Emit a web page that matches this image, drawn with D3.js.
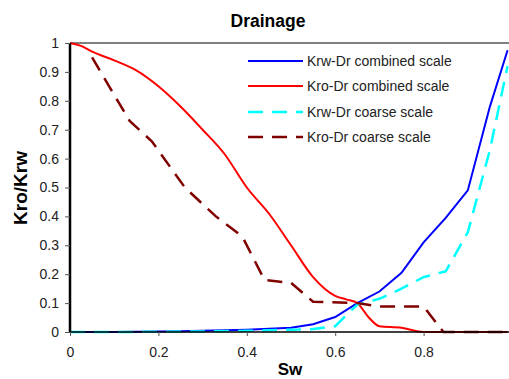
<!DOCTYPE html>
<html>
<head>
<meta charset="utf-8">
<script src="https://cdn.jsdelivr.net/npm/d3@7"></script>
<style>
  body { margin: 0; background: #fff; }
  svg { display: block; font-family: "Liberation Sans", Arial, sans-serif; }
</style>
</head>
<body>
<div id="chart"></div>
<script>
// Sw values and relative permeabilities
const krwCombinedSw = [0, 0.05, 0.1, 0.15, 0.2, 0.25, 0.3, 0.35, 0.4, 0.45, 0.5, 0.55, 0.6, 0.65, 0.7, 0.75, 0.8, 0.85, 0.9, 0.95, 0.99];
const krwCombined = [0, 0, 0, 0.001, 0.002, 0.003, 0.004, 0.006, 0.008, 0.011, 0.015, 0.027, 0.052, 0.1, 0.14, 0.205, 0.31, 0.395, 0.49, 0.78, 0.975];

const kroCombinedSw = [0, 0.025, 0.05, 0.1, 0.15, 0.2, 0.25, 0.3, 0.35, 0.4, 0.45, 0.5, 0.55, 0.6, 0.625, 0.65, 0.675, 0.7, 0.75, 0.8, 0.99];
const kroCombined = [1, 0.99, 0.97, 0.94, 0.905, 0.85, 0.78, 0.70, 0.615, 0.50, 0.41, 0.30, 0.19, 0.125, 0.113, 0.1, 0.052, 0.02, 0.015, 0, 0];

const krwCoarseSw = [0, 0.1, 0.2, 0.3, 0.4, 0.5, 0.55, 0.6, 0.65, 0.7, 0.75, 0.8, 0.85, 0.9, 0.95, 0.99];
const krwCoarse = [0, 0, 0.001, 0.002, 0.004, 0.008, 0.01, 0.02, 0.095, 0.115, 0.15, 0.19, 0.21, 0.345, 0.63, 0.92];

const kroCoarseSw = [0.05, 0.135, 0.185, 0.26, 0.33, 0.39, 0.44, 0.5, 0.55, 0.65, 0.7, 0.8, 0.845, 0.99];
const kroCoarse = [0.95, 0.73, 0.66, 0.5, 0.4, 0.33, 0.18, 0.17, 0.105, 0.1, 0.088, 0.088, 0, 0];

const seriesNames = [`Krw-Dr combined scale`, `Kro-Dr combined scale`, `Krw-Dr coarse scale`, `Kro-Dr coarse scale`];
const xTicks = [0, 0.2, 0.4, 0.6, 0.8];
const yTicks = [0, 0.1, 0.2, 0.3, 0.4, 0.5, 0.6, 0.7, 0.8, 0.9, 1];

const width = 509;
const height = 379;
const margin = {top: 43, right: -3, bottom: 47, left: 70};

const series = [
  {name: seriesNames[0], sw: krwCombinedSw, k: krwCombined, color: `#0000ff`, dash: null, w: 2},
  {name: seriesNames[1], sw: kroCombinedSw, k: kroCombined, color: `#ff0000`, dash: null, w: 2},
  {name: seriesNames[2], sw: krwCoarseSw, k: krwCoarse, color: `#00ffff`, dash: `15,9`, w: 2.5},
  {name: seriesNames[3], sw: kroCoarseSw, k: kroCoarse, color: `#800000`, dash: `15,9`, w: 2.5},
];

const svg = d3.select(`#chart`).append(`svg`)
  .attr(`width`, width)
  .attr(`height`, height);

const x = d3.scaleLinear()
  .domain([0, 1])
  .range([margin.left, width - margin.right]);

const y = d3.scaleLinear()
  .domain([0, 1])
  .range([height - margin.bottom, margin.top]);

// top border of the plot area
svg.append(`line`)
  .attr(`x1`, x(0)).attr(`x2`, width)
  .attr(`y1`, y(1)).attr(`y2`, y(1))
  .attr(`stroke`, `#000`)
  .attr(`stroke-width`, 1);

const line = d3.line()
  .curve(d3.curveMonotoneX)
  .x(d => x(d[0]))
  .y(d => y(d[1]));

const straight = d3.line()
  .x(d => x(d[0]))
  .y(d => y(d[1]));

svg.append(`g`)
  .selectAll(`path`)
  .data(series)
  .enter().append(`path`)
    .attr(`d`, (s, i) => (i === 1 ? line : straight)(s.sw.map((v, j) => [v, s.k[j]])))
    .attr(`fill`, `none`)
    .attr(`stroke`, s => s.color)
    .attr(`stroke-width`, s => s.w)
    .attr(`stroke-dasharray`, s => s.dash);

// axes
const yAxis = svg.append(`g`)
  .attr(`transform`, `translate(${x(0)},0)`)
  .call(d3.axisLeft(y).tickValues(yTicks).tickSize(5).tickPadding(6).tickFormat(d3.format(`~g`)));

const xAxis = svg.append(`g`)
  .attr(`transform`, `translate(0,${y(0)})`)
  .call(d3.axisBottom(x).tickValues(xTicks).tickSize(4).tickPadding(11).tickFormat(d3.format(`~g`)));

[yAxis, xAxis].forEach(a => {
  a.selectAll(`text`).attr(`font-size`, 14).attr(`fill`, `#222`).attr(`font-family`, `"Liberation Sans", Arial, sans-serif`);
  a.selectAll(`.tick line`).attr(`stroke`, `#555`);
});
yAxis.select(`.domain`).attr(`d`, `M0,${y(0)}V${y(1)}`).attr(`stroke-width`, 2.5).attr(`stroke`, `#000`);
xAxis.select(`.domain`).attr(`d`, `M${x(0)},0H${width}`).attr(`stroke-width`, 1.5).attr(`stroke`, `#000`);

// titles
svg.append(`text`)
  .attr(`x`, 268).attr(`y`, 27)
  .attr(`text-anchor`, `middle`)
  .attr(`font-size`, 17.5).attr(`font-weight`, `bold`)
  .text(`Drainage`);

svg.append(`text`)
  .attr(`transform`, `translate(27,188) rotate(-90)`)
  .attr(`text-anchor`, `middle`)
  .attr(`font-size`, 19).attr(`font-weight`, `bold`)
  .text(`Kro/Krw`);

svg.append(`text`)
  .attr(`x`, 290).attr(`y`, 375)
  .attr(`text-anchor`, `middle`)
  .attr(`font-size`, 17).attr(`font-weight`, `bold`)
  .text(`Sw`);

// legend
const legendY = [61, 86, 112, 137];
const legend = svg.append(`g`)
  .selectAll(`g`)
  .data(series)
  .enter().append(`g`)
    .attr(`transform`, (d, i) => `translate(248,${legendY[i]})`);

legend.append(`line`)
  .attr(`x1`, 0).attr(`x2`, 55)
  .attr(`stroke`, d => d.color)
  .attr(`stroke-width`, d => d.w)
  .attr(`stroke-dasharray`, d => d.dash);

legend.append(`text`)
  .attr(`x`, 59).attr(`y`, 5)
  .attr(`font-size`, 14).attr(`fill`, `#222`)
  .text(d => d.name);
</script>
</body>
</html>
